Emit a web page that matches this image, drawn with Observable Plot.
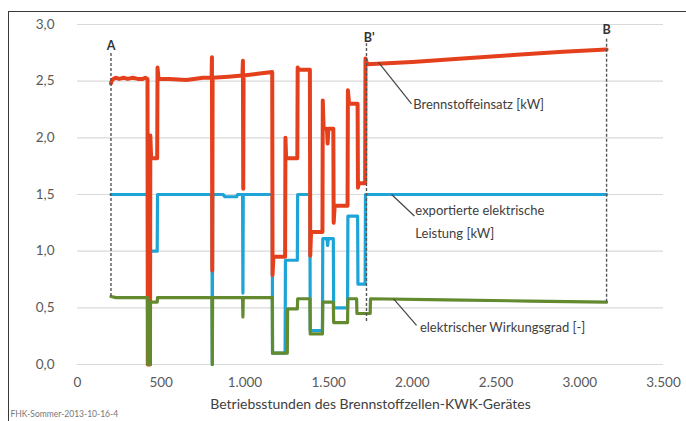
<!DOCTYPE html>
<html>
<head>
<meta charset="utf-8">
<script src="https://cdn.jsdelivr.net/npm/d3@7"></script>
<script src="https://cdn.jsdelivr.net/npm/@observablehq/plot@0.6"></script>
<style>
  html, body { margin: 0; padding: 0; background: #fff; }
  #wrap { position: relative; width: 686px; height: 421px; overflow: hidden; }
  #frame { position: absolute; left: 8px; top: 11px; right: -4px; bottom: -4px;
           border-top: 1.6px solid #3a3a3a; border-left: 1.6px solid #3a3a3a; pointer-events: none; }
</style>
</head>
<body>
<div id="wrap"><div id="frame"></div></div>
<script>
// ---- axis ticks ----
const xTicks = [0, 500, 1000, 1500, 2000, 2500, 3000, 3500];
const xTickLabels = ["0", "500", "1.000", "1.500", "2.000", "2.500", "3.000", "3.500"];
const yTicks = [0, 0.5, 1, 1.5, 2, 2.5, 3];
const yTickLabels = ["0,0", "0,5", "1,0", "1,5", "2,0", "2,5", "3,0"];
const xLabel = "Betriebsstunden des Brennstoffzellen-KWK-Gerätes";
const caption = "FHK-Sommer-2013-10-16-4";

// ---- Brennstoffeinsatz [kW] (red) ----
const redHours  = [200, 206, 215, 228, 250, 275, 300, 330, 360, 390, 405, 418, 420, 433, 435, 440, 476, 478, 484, 550, 650, 750, 801, 803, 805, 807, 900, 985, 988, 990, 992, 1100, 1163, 1165, 1170, 1240, 1242, 1246, 1313, 1315, 1320, 1388, 1390, 1395, 1463, 1465, 1470, 1490, 1494, 1498, 1528, 1530, 1536, 1613, 1615, 1622, 1673, 1675, 1680, 1718, 1720, 1730, 2000, 2300, 2600, 2900, 3160];
const redValues = [2.48, 2.51, 2.52, 2.53, 2.52, 2.53, 2.52, 2.53, 2.52, 2.52, 2.53, 2.52, 0.00, 0.00, 2.02, 1.82, 1.82, 2.62, 2.52, 2.52, 2.51, 2.53, 2.53, 2.71, 0.83, 2.53, 2.54, 2.55, 2.68, 1.55, 2.55, 2.57, 2.58, 0.79, 0.95, 0.95, 2.00, 1.82, 1.82, 2.62, 2.60, 2.60, 0.96, 1.17, 1.17, 2.33, 2.08, 2.08, 1.95, 2.08, 2.08, 1.25, 1.40, 1.40, 2.42, 2.30, 2.30, 1.56, 1.60, 1.60, 2.70, 2.65, 2.67, 2.70, 2.73, 2.76, 2.78];

// ---- exportierte elektrische Leistung [kW] (blue) ----
const blueHours  = [200, 418, 420, 433, 435, 476, 478, 803, 805, 807, 870, 880, 950, 956, 986, 988, 990, 1163, 1165, 1240, 1242, 1313, 1315, 1388, 1390, 1463, 1465, 1490, 1494, 1498, 1528, 1530, 1613, 1615, 1673, 1675, 1718, 1720, 3160];
const blueValues = [1.50, 1.50, 0.00, 0.00, 1.00, 1.00, 1.50, 1.50, 0.00, 1.50, 1.50, 1.48, 1.48, 1.50, 1.50, 0.63, 1.50, 1.50, 0.10, 0.10, 0.92, 0.92, 1.50, 1.50, 0.30, 0.30, 1.11, 1.11, 1.05, 1.11, 1.11, 0.50, 0.50, 1.31, 1.31, 0.71, 0.71, 1.50, 1.50];

// ---- elektrischer Wirkungsgrad [-] (green) ----
const greenHours  = [200, 230, 300, 418, 420, 433, 435, 476, 478, 803, 805, 807, 986, 988, 990, 1163, 1165, 1253, 1255, 1313, 1315, 1388, 1390, 1463, 1465, 1528, 1530, 1613, 1615, 1667, 1669, 1748, 1750, 2200, 2700, 3160];
const greenValues = [0.60, 0.59, 0.59, 0.59, 0.00, 0.00, 0.55, 0.55, 0.59, 0.59, 0.00, 0.59, 0.59, 0.42, 0.59, 0.59, 0.10, 0.10, 0.49, 0.49, 0.58, 0.58, 0.27, 0.27, 0.55, 0.55, 0.37, 0.37, 0.58, 0.58, 0.45, 0.45, 0.58, 0.57, 0.56, 0.55];

// ---- markers A, B', B ----
const markerNames = ["A", "B'", "B"];
const markerHours = [200, 1726, 3160];
const markerLow   = [0.60, 0.38, 0.55];
const markerHigh  = [2.75, 2.83, 2.87];
const markerLabelHours = [200, 1742, 3160];
const markerLabelValues = [2.81, 2.88, 2.95];

// ---- annotations ----
const noteTexts  = ["Brennstoffeinsatz [kW]", "exportierte elektrische", "Leistung [kW]", "elektrischer Wirkungsgrad [-]"];
const noteHours  = [2005, 2018, 2018, 2045];
const noteValues = [2.295, 1.36, 1.15, 0.327];
const leaderFromHours  = [1798, 1876, 1888];
const leaderFromValues = [2.665, 1.5, 0.58];
const leaderToHours    = [1995, 2012, 2025];
const leaderToValues   = [2.30, 1.31, 0.345];

// ---- build tables ----
const red = redHours.map((h, i) => ({h, v: redValues[i]}));
const blue = blueHours.map((h, i) => ({h, v: blueValues[i]}));
const green = greenHours.map((h, i) => ({h, v: greenValues[i]}));
const markers = markerNames.map((n, i) => ({n, h: markerHours[i], lo: markerLow[i], hi: markerHigh[i], lh: markerLabelHours[i], lv: markerLabelValues[i]}));
const notes = noteTexts.map((t, i) => ({t, h: noteHours[i], v: noteValues[i]}));
const leaders = leaderFromHours.map((h, i) => ({x1: h, y1: leaderFromValues[i], x2: leaderToHours[i], y2: leaderToValues[i]}));

const FONT = "Lato, 'Open Sans', sans-serif";

const chart = Plot.plot({
  width: 686,
  height: 421,
  marginLeft: 77,
  marginRight: 23,
  marginTop: 24,
  marginBottom: 57,
  style: {fontFamily: FONT, fontSize: "13.5px", color: "#404040", background: "transparent"},
  x: {domain: [0, 3500]},
  y: {domain: [0, 3]},
  marks: [
    Plot.gridY(yTicks, {stroke: "#d9d9d9", strokeOpacity: 1, strokeWidth: 1.2}),
    Plot.line(blue, {x: "h", y: "v", stroke: "#1ea4d6", strokeWidth: 3.2}),
    Plot.line(red, {x: "h", y: "v", stroke: "#e5401d", strokeWidth: 4}),
    Plot.line(green, {x: "h", y: "v", stroke: "#638a2f", strokeWidth: 3.2}),
    Plot.ruleX(markers, {x: "h", y1: "lo", y2: "hi", stroke: "#555", strokeWidth: 1.4, strokeDasharray: "3,2"}),
    Plot.text(markers, {x: "lh", y: "lv", text: "n", fontWeight: "bold", fontSize: 12.5, fill: "#333"}),
    Plot.link(leaders, {x1: "x1", y1: "y1", x2: "x2", y2: "y2", stroke: "#444", strokeWidth: 1.2}),
    Plot.text(notes, {x: "h", y: "v", text: "t", textAnchor: "start", fontSize: 13, fill: "#404040"}),
    Plot.axisY(yTicks, {tickSize: 0, tickPadding: 23, tickFormat: (d, i) => yTickLabels[i], fontSize: 13.5, fill: "#595959", label: null}),
    Plot.axisX(xTicks, {tickSize: 0, tickPadding: 13, tickFormat: (d, i) => xTickLabels[i], fontSize: 13.5, fill: "#595959", label: null}),
    Plot.text([xLabel], {frameAnchor: "bottom", dy: 44, fontSize: 14, fill: "#404040"}),
    Plot.text([caption], {frameAnchor: "bottom-left", dx: -67, dy: 52, textAnchor: "start", fontSize: 8.5, fill: "#777"})
  ]
});
document.getElementById("wrap").prepend(chart);
</script>
</body>
</html>
